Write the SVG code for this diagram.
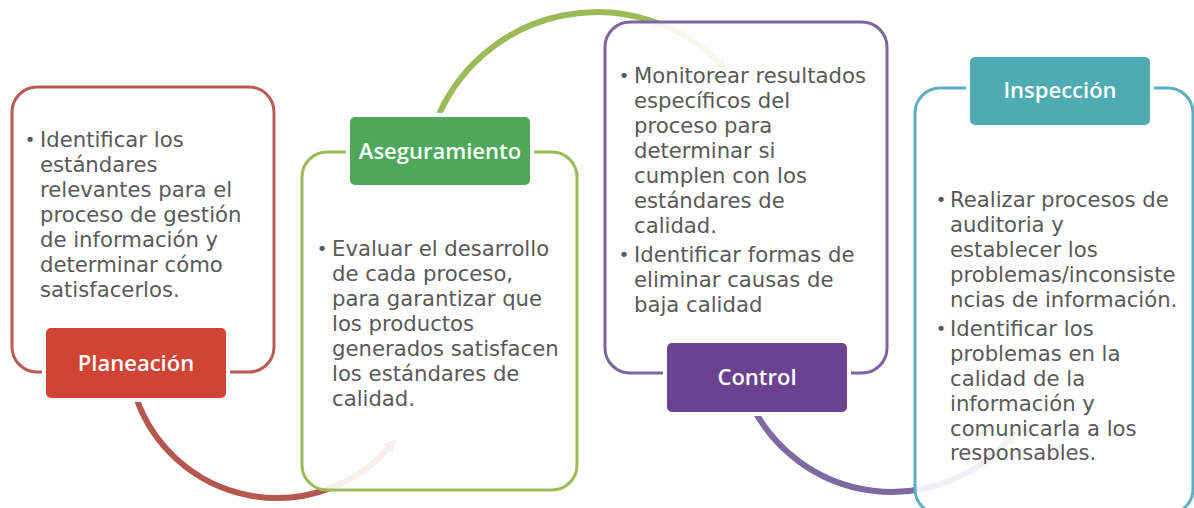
<svg xmlns="http://www.w3.org/2000/svg" width="1194" height="508" viewBox="0 0 1194 508">
<defs>
<style>
.box{fill:#ffffff;fill-opacity:0.9;stroke-width:3}
.lab{stroke:#ffffff;stroke-width:8}
.t{font-family:"DejaVu Sans",sans-serif;font-size:21.2px;fill:#595959}
.b{font-family:"DejaVu Sans",sans-serif;font-size:18px;fill:#595959;text-anchor:middle}
.l{font-family:"Open Sans","DejaVu Sans",sans-serif;font-size:22px;font-weight:600;fill:#ffffff;text-anchor:middle}
.arc{fill:none;stroke-width:6}
</style>
<marker id="ar" viewBox="0 0 10 10" refX="1" refY="5" markerWidth="13" markerHeight="13" markerUnits="userSpaceOnUse" orient="auto"><path d="M0,0 L10,5 L0,10 z" fill="#B5574E"/></marker>
<marker id="ag" viewBox="0 0 10 10" refX="1" refY="5" markerWidth="13" markerHeight="13" markerUnits="userSpaceOnUse" orient="auto"><path d="M0,0 L10,5 L0,10 z" fill="#9BBB59"/></marker>
<marker id="ap" viewBox="0 0 10 10" refX="1" refY="5" markerWidth="13" markerHeight="13" markerUnits="userSpaceOnUse" orient="auto"><path d="M0,0 L10,5 L0,10 z" fill="#7D68A2"/></marker>
</defs>
<rect width="1194" height="508" fill="#ffffff"/>
<g id="connectors">
<path class="arc" stroke="#B5574E" marker-end="url(#ar)" d="M137,400 A149,149 0 0 0 388.6,447.7"/>
<path class="arc" stroke="#9BBB59" marker-end="url(#ag)" d="M436.6,120.2 A173,173 0 0 1 719.3,62.7"/>
<path class="arc" stroke="#7D68A2" marker-end="url(#ap)" d="M753.4,408.7 A157,157 0 0 0 1008.7,440"/>
</g>
<g id="planeacion">
<rect class="box" x="12" y="87" width="262" height="285" rx="25" stroke="#BA5B53"/>
<text class="b" x="30" y="146">•</text>
<text class="t"><tspan x="40" y="147">Identificar los</tspan><tspan x="40" y="172">estándares</tspan><tspan x="40" y="197">relevantes para el</tspan><tspan x="40" y="222">proceso de gestión</tspan><tspan x="40" y="247">de información y</tspan><tspan x="40" y="272">determinar cómo</tspan><tspan x="40" y="297">satisfacerlos.</tspan></text>
<rect class="lab" x="46" y="328" width="180" height="70" rx="5" fill="#D14334"/>
<rect x="46" y="328" width="180" height="70" rx="5" fill="#D14334"/>
<text class="l" x="136" y="371">Planeación</text>
</g>
<g id="aseguramiento">
<rect class="box" x="302" y="152" width="275" height="338" rx="25" stroke="#9BBB59"/>
<text class="b" x="322" y="255">•</text>
<text class="t"><tspan x="332" y="256">Evaluar el desarrollo</tspan><tspan x="332" y="281">de cada proceso,</tspan><tspan x="332" y="306">para garantizar que</tspan><tspan x="332" y="331">los productos</tspan><tspan x="332" y="356">generados satisfacen</tspan><tspan x="332" y="381">los estándares de</tspan><tspan x="332" y="406">calidad.</tspan></text>
<rect class="lab" x="350" y="117" width="180" height="68" rx="5" fill="#4DA85A"/>
<rect x="350" y="117" width="180" height="68" rx="5" fill="#4DA85A"/>
<text class="l" x="440" y="159">Aseguramiento</text>
</g>
<g id="control">
<rect class="box" x="605" y="22" width="282" height="351" rx="25" stroke="#8064A2"/>
<text class="b" x="624" y="82">•</text>
<text class="b" x="624" y="261">•</text>
<text class="t"><tspan x="634" y="83">Monitorear resultados</tspan><tspan x="634" y="108">específicos del</tspan><tspan x="634" y="133">proceso para</tspan><tspan x="634" y="158">determinar si</tspan><tspan x="634" y="183">cumplen con los</tspan><tspan x="634" y="208">estándares de</tspan><tspan x="634" y="233">calidad.</tspan><tspan x="634" y="262">Identificar formas de</tspan><tspan x="634" y="287">eliminar causas de</tspan><tspan x="634" y="312">baja calidad</tspan></text>
<rect class="lab" x="667" y="343" width="180" height="69" rx="5" fill="#6B4292"/>
<rect x="667" y="343" width="180" height="69" rx="5" fill="#6B4292"/>
<text class="l" x="757" y="385">Control</text>
</g>
<g id="inspeccion">
<rect class="box" x="915" y="88" width="278" height="426" rx="25" stroke="#5BAEC4"/>
<text class="b" x="941" y="206">•</text>
<text class="b" x="941" y="335">•</text>
<text class="t"><tspan x="950" y="207">Realizar procesos de</tspan><tspan x="950" y="232">auditoria y</tspan><tspan x="950" y="257">establecer los</tspan><tspan x="950" y="282">problemas/inconsiste</tspan><tspan x="950" y="307">ncias de información.</tspan><tspan x="950" y="336">Identificar los</tspan><tspan x="950" y="361">problemas en la</tspan><tspan x="950" y="386">calidad de la</tspan><tspan x="950" y="411">información y</tspan><tspan x="950" y="436">comunicarla a los</tspan><tspan x="950" y="460">responsables.</tspan></text>
<rect class="lab" x="970" y="57" width="180" height="68" rx="5" fill="#4FABB2"/>
<rect x="970" y="57" width="180" height="68" rx="5" fill="#4FABB2"/>
<text class="l" x="1060" y="98">Inspección</text>
</g>
</svg>
